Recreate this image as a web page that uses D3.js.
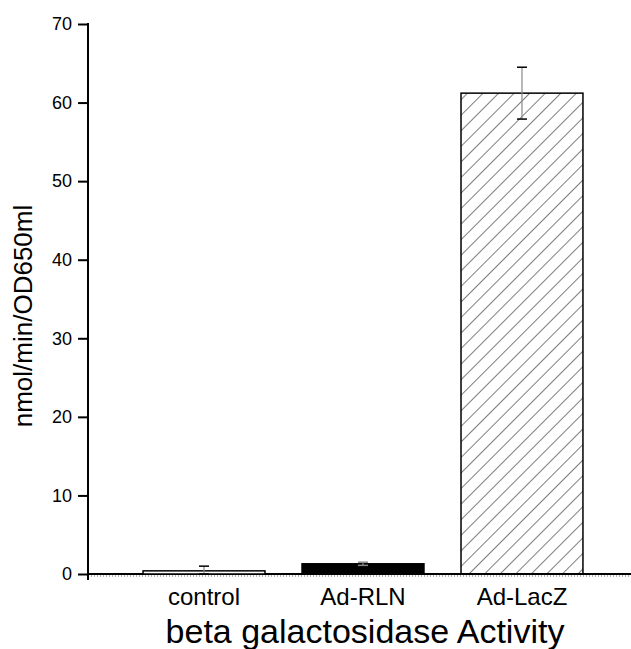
<!DOCTYPE html>
<html>
<head>
<meta charset="utf-8">
<script src="https://cdn.jsdelivr.net/npm/d3@7"></script>
<style>
  body { margin: 0; background: #fff; }
  text { font-family: "Liberation Sans", Arial, sans-serif; fill: #000; }
</style>
</head>
<body>
<div id="chart"></div>
<script>
const categories = ["control", "Ad-RLN", "Ad-LacZ"]
const means = [0.4, 1.3, 61.2]
const errors = [0.6, 0.2, 3.3]
const yTicks = [0, 10, 20, 30, 40, 50, 60, 70]
const yLabel = "nmol/min/OD650ml"
const xTitle = "beta galactosidase Activity"

const dataset = categories.map((c, i) => ({ name: c, mean: means[i], err: errors[i] }))

const dimensions = {
    width: 631,
    height: 649,
    margin: { top: 24, right: 0, bottom: 75, left: 88 }
}
dimensions.boundedHeight = dimensions.height - dimensions.margin.top - dimensions.margin.bottom

const wrapper = d3.select("#chart")
    .append("svg")
        .attr("width", dimensions.width)
        .attr("height", dimensions.height)

// hatch pattern for Ad-LacZ
const defs = wrapper.append("defs")
defs.append("pattern")
    .attr("id", "hatch")
    .attr("patternUnits", "userSpaceOnUse")
    .attr("width", 11)
    .attr("height", 11)
    .attr("patternTransform", "rotate(45)")
  .append("line")
    .attr("x1", 0).attr("y1", 0)
    .attr("x2", 0).attr("y2", 11)
    .attr("stroke", "#111")
    .attr("stroke-width", 1.1)

const yScale = d3.scaleLinear()
    .domain([0, 70])
    .range([dimensions.margin.top + dimensions.boundedHeight, dimensions.margin.top])

const xScale = d3.scaleBand()
    .domain(categories)
    .range([106, 620])
    .paddingInner(0.233)
    .paddingOuter(0.233)

const fills = { "control": "#fff", "Ad-RLN": "#000", "Ad-LacZ": "url(#hatch)" }

const y0 = yScale(0)

// x axis line + minor dotted ticks
wrapper.append("line")
    .attr("x1", dimensions.margin.left).attr("x2", dimensions.width)
    .attr("y1", y0).attr("y2", y0)
    .attr("stroke", "#000").attr("stroke-width", 2)
wrapper.append("line")
    .attr("x1", dimensions.margin.left).attr("x2", dimensions.width)
    .attr("y1", y0 + 2).attr("y2", y0 + 2)
    .attr("stroke", "#666").attr("stroke-width", 1)
    .attr("stroke-dasharray", "1,2")

// bars
const bars = wrapper.append("g")
bars.selectAll("rect")
    .data(dataset)
    .join("rect")
        .attr("x", d => xScale(d.name))
        .attr("width", xScale.bandwidth())
        .attr("y", d => yScale(d.mean))
        .attr("height", d => y0 - yScale(d.mean))
        .attr("fill", d => fills[d.name])
        .attr("stroke", "#000")
        .attr("stroke-width", 1.5)

// error bars
const errG = wrapper.append("g")
dataset.forEach(d => {
    const cx = xScale(d.name) + xScale.bandwidth() / 2
    errG.append("line")
        .attr("x1", cx).attr("x2", cx)
        .attr("y1", yScale(d.mean + d.err)).attr("y2", yScale(Math.max(0, d.mean - d.err)))
        .attr("stroke", "#888").attr("stroke-width", 1.2)
    ;[d.mean + d.err, d.mean - d.err].forEach(v => {
        errG.append("line")
            .attr("x1", cx - 5).attr("x2", cx + 5)
            .attr("y1", yScale(Math.max(0, v))).attr("y2", yScale(Math.max(0, v)))
            .attr("stroke", d.name == "Ad-RLN" ? "#888" : "#000").attr("stroke-width", 1.5)
    })
})

// y axis
const yAxisGenerator = d3.axisLeft()
    .scale(yScale)
    .tickValues(yTicks)
    .tickSize(10)
    .tickPadding(6)
    .tickSizeOuter(0)

const yAxis = wrapper.append("g")
    .attr("transform", `translate(${dimensions.margin.left},0)`)
    .call(yAxisGenerator)
yAxis.select(".domain").remove()
yAxis.selectAll(".tick line").attr("stroke", "#000").attr("stroke-width", 2)
yAxis.selectAll(".tick text")
    .attr("font-size", 18)
    .attr("font-family", "Liberation Sans, Arial, sans-serif")
    .attr("fill", "#000")
wrapper.append("line")
    .attr("x1", dimensions.margin.left).attr("x2", dimensions.margin.left)
    .attr("y1", yScale(70) - 1).attr("y2", y0 + 6)
    .attr("stroke", "#000").attr("stroke-width", 2)

// category labels
wrapper.append("g").selectAll("text")
    .data(categories)
    .join("text")
        .attr("x", d => xScale(d) + xScale.bandwidth() / 2)
        .attr("y", 605)
        .attr("text-anchor", "middle")
        .attr("font-size", 24)
        .text(d => d)

// axis titles
wrapper.append("text")
    .attr("x", 365)
    .attr("y", 643)
    .attr("text-anchor", "middle")
    .attr("font-size", 34)
    .text(xTitle)

wrapper.append("text")
    .attr("transform", "translate(32,316) rotate(-90)")
    .attr("text-anchor", "middle")
    .attr("font-size", 26)
    .text(yLabel)
</script>
</body>
</html>
